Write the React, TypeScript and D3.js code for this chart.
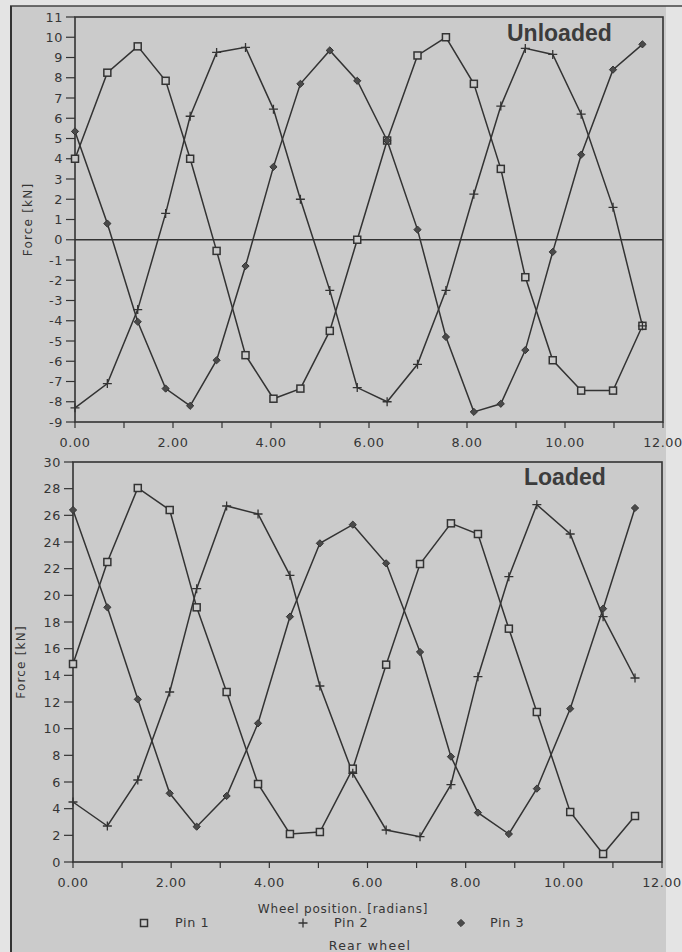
import React from 'react';
import {scaleLinear,line} from 'd3';

// wheel position [rad] of each sample
const topX=[0,0.66,1.28,1.85,2.35,2.89,3.48,4.05,4.60,5.20,5.76,6.37,6.99,7.57,8.14,8.69,9.19,9.75,10.33,10.98,11.58];
const topPin1=[4.0,8.25,9.55,7.85,4.0,-0.55,-5.7,-7.85,-7.35,-4.5,0.0,4.9,9.1,10.0,7.7,3.5,-1.85,-5.95,-7.45,-7.45,-4.25];
const topPin2=[-8.3,-7.1,-3.45,1.3,6.1,9.25,9.5,6.45,2.0,-2.5,-7.3,-8.0,-6.15,-2.5,2.25,6.6,9.45,9.15,6.2,1.6,-4.25];
const topPin3=[5.35,0.8,-4.05,-7.35,-8.2,-5.95,-1.3,3.6,7.7,9.35,7.85,4.9,0.5,-4.8,-8.5,-8.1,-5.45,-0.6,4.2,8.4,9.65];

const botX=[0,0.70,1.32,1.97,2.52,3.13,3.77,4.42,5.03,5.70,6.38,7.07,7.70,8.25,8.88,9.45,10.13,10.80,11.45];
const botPin1=[14.85,22.5,28.05,26.4,19.1,12.75,5.85,2.1,2.25,7.0,14.8,22.35,25.4,24.6,17.5,11.25,3.75,0.6,3.45];
const botPin2=[4.5,2.7,6.15,12.75,20.5,26.7,26.1,21.5,13.2,6.65,2.4,1.9,5.8,13.9,21.4,26.8,24.6,18.4,13.8];
const botPin3=[26.4,19.1,12.2,5.15,2.65,4.95,10.4,18.4,23.9,25.3,22.4,15.75,7.9,3.7,2.1,5.5,11.5,19.0,26.55];

const xTicks=[0,1,2,3,4,5,6,7,8,9,10,11,12];
const xLabels=[0,2,4,6,8,10,12];
const topYTicks=[-9,-8,-7,-6,-5,-4,-3,-2,-1,0,1,2,3,4,5,6,7,8,9,10,11];
const botYTicks=[0,2,4,6,8,10,12,14,16,18,20,22,24,26,28,30];

const legendItems=[{name:"Pin 1",mark:"square"},{name:"Pin 2",mark:"plus"},{name:"Pin 3",mark:"diamond"}];

const ink="#333";
const bg="#cbcbcb";
const tickFont={fontFamily:"DejaVu Sans",fontSize:12.8,letterSpacing:0.6,fill:"#353535"};

const Marker=({mark,x,y}:{mark:string,x:number,y:number})=>{
  if(mark==="square") return <rect x={x-3.5} y={y-3.5} width={7} height={7} fill={bg} stroke={ink} strokeWidth={1.5}/>;
  if(mark==="plus") return <path d={`M${x-4.5},${y}H${x+4.5}M${x},${y-4.5}V${y+4.5}`} stroke={ink} strokeWidth={1.3}/>;
  return <path d={`M${x},${y-3.6}L${x+3.6},${y}L${x},${y+3.6}L${x-3.6},${y}Z`} fill="#4a4a4a" stroke={ink} strokeWidth={1}/>;
};

const Panel=({xs,series,y0,y1,yDomain,x0,x1,yTicks,title,titleX,titleY,yTitleX}:any)=>{
  const xScale=scaleLinear().domain([0,12]).range([x0,x1]);
  const yScale=scaleLinear().domain(yDomain).range([y1,y0]);
  const ln=line<number>().x((d,i)=>xScale(xs[i])).y(d=>yScale(d));
  const marks=["square","plus","diamond"];
  return (
    <g>
      <rect x={x0} y={y0} width={x1-x0} height={y1-y0} fill="none" stroke={ink} strokeWidth={1.6}/>
      {yDomain[0]<0 && <line x1={x0} x2={x1} y1={yScale(0)} y2={yScale(0)} stroke={ink} strokeWidth={1.3}/>}
      {yTicks.map((t:number)=>(
        <g key={t}>
          <line x1={x0-9} x2={x0} y1={yScale(t)} y2={yScale(t)} stroke={ink} strokeWidth={1.2}/>
          <text x={x0-12} y={yScale(t)+4.5} textAnchor="end" style={tickFont}>{t}</text>
        </g>
      ))}
      {xTicks.map(t=>(
        <line key={t} x1={xScale(t)} x2={xScale(t)} y1={y1} y2={y1+6} stroke={ink} strokeWidth={1.2}/>
      ))}
      {xLabels.map(t=>(
        <text key={t} x={xScale(t)} y={y1+25} textAnchor="middle" style={tickFont}>{t.toFixed(2)}</text>
      ))}
      <text transform={`translate(${yTitleX},${(y0+y1)/2}) rotate(-90)`} textAnchor="middle" style={{...tickFont,fontSize:12,letterSpacing:1.2}}>Force [kN]</text>
      {series.map((s:number[],k:number)=>(
        <path key={k} d={ln(s) as string} fill="none" stroke={ink} strokeWidth={1.5}/>
      ))}
      {series.map((s:number[],k:number)=>s.map((v,i)=>(
        <Marker key={k+"-"+i} mark={marks[k]} x={xScale(xs[i])} y={yScale(v)}/>
      )))}
      <text x={titleX} y={titleY} style={{fontFamily:"Liberation Sans",fontWeight:"bold",fontSize:23,fill:"#3c3c3c"}}>{title}</text>
    </g>
  );
};

export default function App(){
  const legendX=[144,303,461];
  const legendTextX=[175,334,490];
  return (
    <svg width={682} height={952} style={{position:"absolute",left:0,top:0}}>
      <rect x={0} y={0} width={682} height={952} fill="#e4e4e4"/>
      <rect x={10} y={6} width={656} height={946} fill={bg}/>
      <line x1={10} x2={682} y1={6} y2={6} stroke="#444" strokeWidth={1.5}/>
      <line x1={11} x2={11} y1={6} y2={952} stroke="#333" strokeWidth={2}/>
      <Panel xs={topX} series={[topPin1,topPin2,topPin3]} y0={17} y1={422} yDomain={[-9,11]} x0={75} x1={663}
        yTicks={topYTicks} title="Unloaded" titleX={507} titleY={41} yTitleX={32}/>
      <Panel xs={botX} series={[botPin1,botPin2,botPin3]} y0={462} y1={862} yDomain={[0,30]} x0={73} x1={662}
        yTicks={botYTicks} title="Loaded" titleX={524} titleY={485} yTitleX={25}/>
      <text x={343} y={913} textAnchor="middle" style={{...tickFont,fontSize:12,letterSpacing:0.8}}>Wheel position. [radians]</text>
      {legendItems.map((d,i)=>(
        <g key={d.name}>
          <Marker mark={d.mark} x={legendX[i]} y={923}/>
          <text x={legendTextX[i]} y={927} style={tickFont}>{d.name}</text>
        </g>
      ))}
      <text x={370} y={950} textAnchor="middle" style={{...tickFont,fontSize:12.5,letterSpacing:1.3}}>Rear wheel</text>
    </svg>
  );
}
